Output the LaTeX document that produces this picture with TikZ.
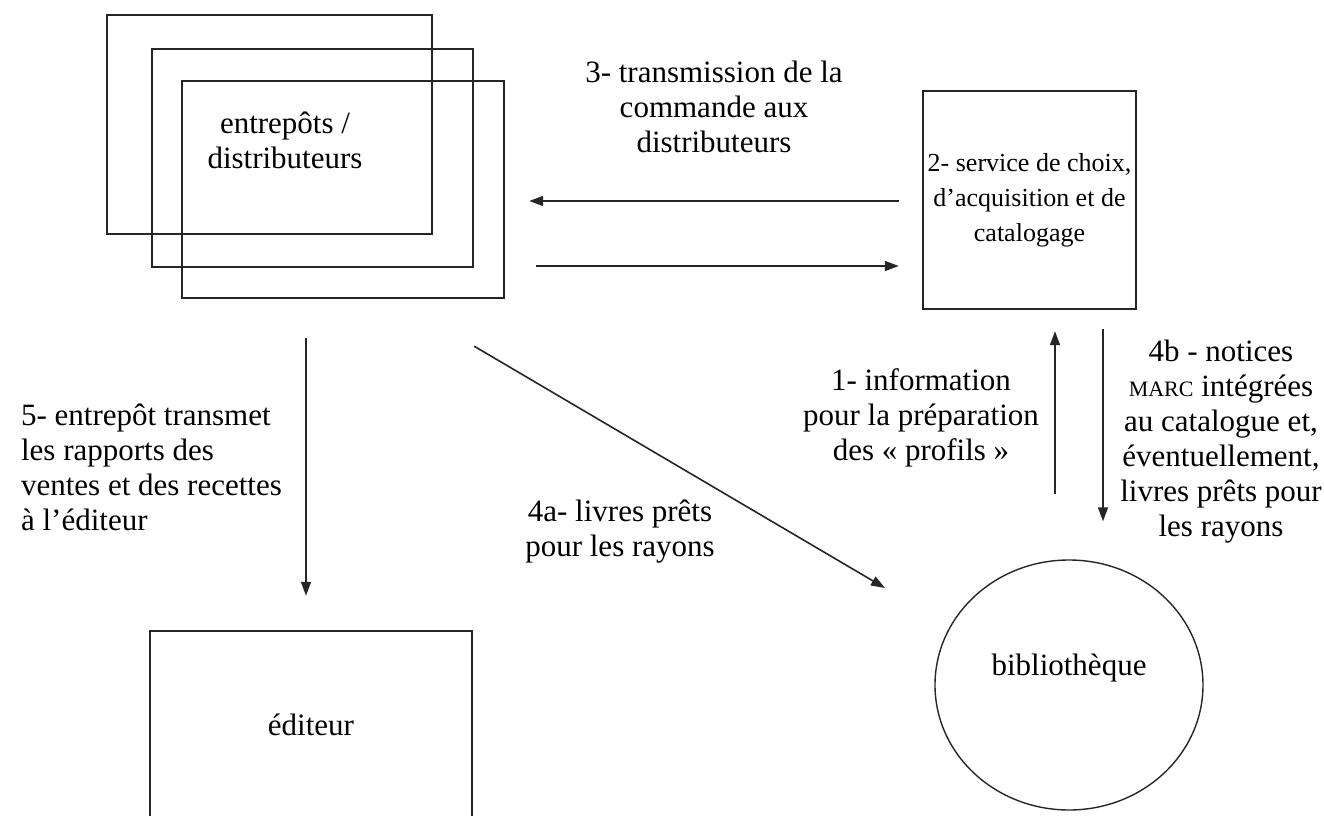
\documentclass[tikz,border=0pt]{standalone}
\usepackage{fontspec}
\setmainfont{Liberation Serif}
\usetikzlibrary{arrows.meta,shapes.geometric}

\begin{document}
\begin{tikzpicture}[x=0.5pt,y=-0.5pt,
        every node/.style={font=\fontsize{15.5pt}{17.5pt}\selectfont},
        box/.style={draw=black!85, line width=1.2pt, inner sep=0pt},
        arr/.style={draw=black!85, line width=0.8pt, -{Triangle[length=7pt,width=5pt]}}]
        \useasboundingbox (0,0) rectangle (1324,815);
        % Stacked boxes
        \node[box, minimum width=162.5pt, minimum height=109.5pt] (ent1) at (269.5,124.5) {};
        \node[box, minimum width=160.5pt, minimum height=109pt] (ent2) at (312.5,158) {};
        \node[box, minimum width=161pt, minimum height=108.5pt] (ent3) at (343,189.5) {};
        \node[align=center] (entlbl) at (285,140) {entrepôts /\\distributeurs};
        % Other boxes
        \node[box, align=center, minimum width=106.5pt, minimum height=109pt,
            font=\fontsize{13pt}{17.5pt}\selectfont] (svc) at (1029.5,200) {2- service de choix,\\d’acquisition et de\\catalogage};
        \node[box, minimum width=161pt, minimum height=94pt] (edit) at (311,725) {éditeur};
        \node[draw=black!85, ellipse, line width=0.7pt, inner sep=0pt, minimum width=134pt, minimum height=125pt] (lib) at (1069,685) {\raisebox{0pt}[0pt][0pt]{\raisebox{5pt}{bibliothèque}}};
        % Labels
        \node[align=center] (lbl3) at (714,107) {3- transmission de la\\commande aux\\distributeurs};
        \node[align=center] (lbl1) at (921,418) {1- information\\pour la préparation\\des «~profils~»};
        \node[align=center] (lbl4b) at (1221,442) {4b - notices\\{\fontsize{11pt}{17.5pt}\selectfont MARC} intégrées\\au catalogue et,\\éventuellement,\\livres prêts pour\\les rayons};
        \node[align=center] (lbl4a) at (620,532) {4a- livres prêts\\pour les rayons};
        \node[anchor=west, align=left] (lbl5) at (14,467) {5- entrepôt transmet\\les rapports des\\ventes et des recettes\\à l’éditeur};
        % Arrows
        \draw[arr] ([xshift=-11.5pt,yshift=-0.5pt]svc.west) -- ([xshift=12pt,yshift=-5.75pt]ent3.east);
        \draw[arr] ([xshift=15.5pt,yshift=-38.25pt]ent3.east) -- ([xshift=-11.5pt,yshift=-33pt]svc.west);
        \draw[arr] ([xshift=-18.5pt,yshift=-19.5pt]ent3.south) -- ([xshift=-2.5pt,yshift=17pt]edit.north);
        \draw[arr] ([xshift=-15.5pt,yshift=-23.5pt]ent3.south east) -- ([xshift=-92pt,yshift=48.5pt]lib.center);
        \draw[arr] ([xshift=-7pt,yshift=32.5pt]lib.north) -- ([xshift=12.75pt,yshift=-10.5pt]svc.south);
        \draw[arr] ([xshift=36.75pt,yshift=-9.5pt]svc.south) -- ([xshift=17pt,yshift=19pt]lib.north);
    \end{tikzpicture}
\end{document}
